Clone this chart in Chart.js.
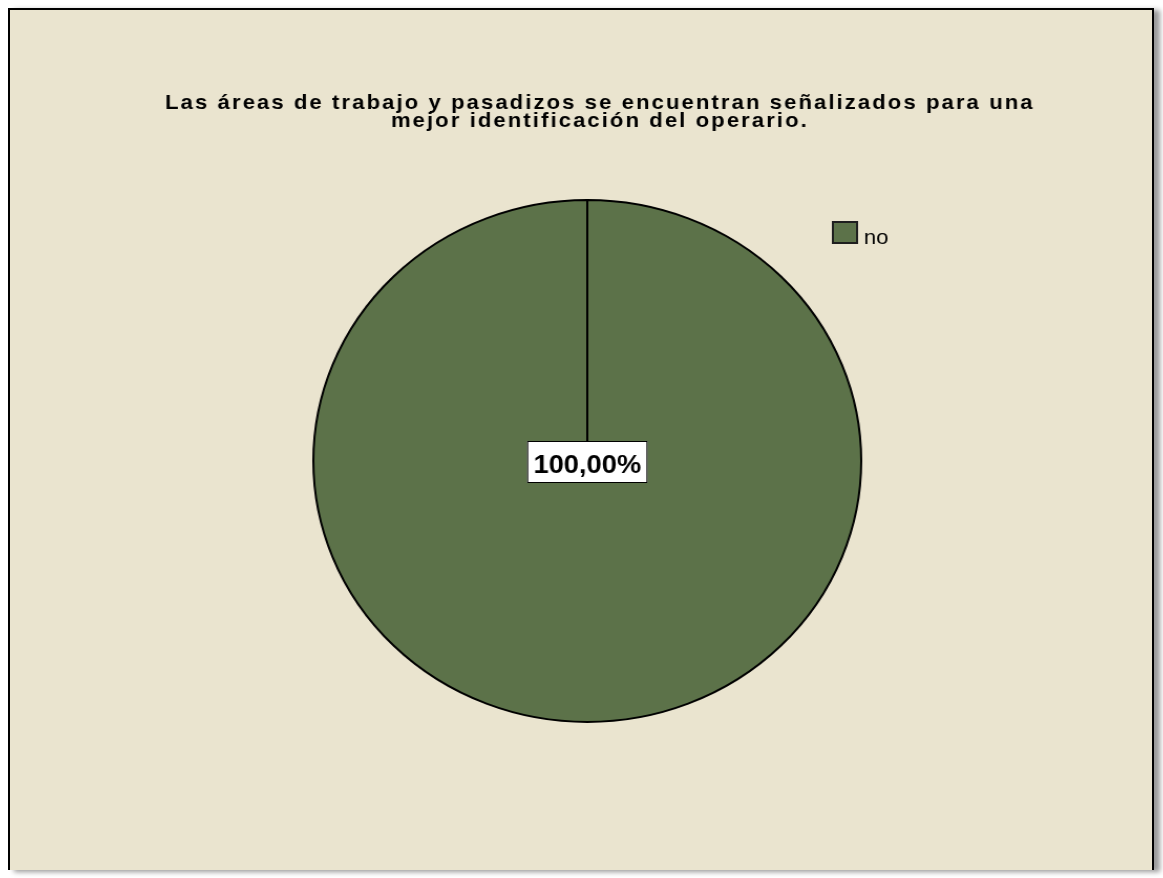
<!DOCTYPE html>
<html>
<head>
<meta charset="utf-8">
<script src="https://cdn.jsdelivr.net/npm/chart.js@4.4.1/dist/chart.umd.min.js"></script>
<style>
  html, body { margin: 0; background: #fff; }
  #marco {
    position: absolute; left: 8px; top: 8px;
    width: 1142px; height: 860px;
    border: 2px solid #000; border-bottom: none;
    background: #eae4cf;
    box-shadow: 6px 2px 5px rgba(0, 0, 0, .4);
    overflow: hidden;
  }
  #grafico { position: absolute; left: 0; top: 0; transform: scaleX(1.0496); transform-origin: 0 0; }
</style>
</head>
<body>
<div id="marco"><canvas id="grafico" width="1088" height="860"></canvas></div>
<script>
// Datos de la pregunta
const categorias = ['no'];
const frecuencias = [100];
const colores = ['#5c7249'];
const titulo = [
  'Las áreas de trabajo y pasadizos se encuentran señalizados para una',
  'mejor identificación del operario.'
];

const fuente = '"Liberation Sans", Arial, sans-serif';

// Título, leyenda y etiquetas de porcentaje dibujados a mano
const rotulos = {
  id: 'rotulos',
  afterDraw(chart) {
    const ctx = chart.ctx;

    // título en dos líneas
    ctx.save();
    ctx.font = 'bold 21px ' + fuente;
    ctx.letterSpacing = '2px';
    ctx.fillStyle = '#000';
    ctx.textAlign = 'center';
    titulo.forEach((linea, i) => ctx.fillText(linea, 562, 98.5 + i * 18.5));
    ctx.restore();

    // leyenda
    ctx.save();
    chart.data.labels.forEach((etiqueta, i) => {
      const y = 211 + i * 30;
      ctx.fillStyle = chart.data.datasets[0].backgroundColor[i];
      ctx.fillRect(783, y, 25, 23);
      ctx.strokeStyle = '#1e1e1e';
      ctx.lineWidth = 2;
      ctx.strokeRect(784, y + 1, 23, 21);
      ctx.fillStyle = '#000';
      ctx.font = '21px ' + fuente;
      ctx.textAlign = 'left';
      ctx.fillText(etiqueta, 813.5, y + 23);
    });
    ctx.restore();

    // porcentajes
    const meta = chart.getDatasetMeta(0);
    const datos = chart.data.datasets[0].data;
    const total = datos.reduce((a, b) => a + b, 0);
    meta.data.forEach((arco, i) => {
      const pct = datos[i] / total * 100;
      const texto = pct.toFixed(2).replace('.', ',') + '%';
      const pos = pct >= 100 ? { x: arco.x, y: arco.y } : arco.tooltipPosition();
      ctx.save();
      ctx.font = 'bold 26px ' + fuente;
      const w = ctx.measureText(texto).width + 12;
      const h = 42;
      ctx.fillStyle = '#fff';
      ctx.fillRect(pos.x - w / 2, pos.y - h / 2 + 1, w, h);
      ctx.strokeStyle = '#000';
      ctx.lineWidth = 1;
      ctx.strokeRect(pos.x - w / 2 + 0.5, pos.y - h / 2 + 1.5, w - 1, h - 1);
      ctx.fillStyle = '#000';
      ctx.textAlign = 'center';
      ctx.fillText(texto, pos.x, pos.y + 12);
      ctx.restore();
    });
  }
};

new Chart(document.getElementById('grafico').getContext('2d'), {
  type: 'pie',
  data: {
    labels: categorias,
    datasets: [{
      data: frecuencias,
      backgroundColor: colores,
      borderColor: '#000',
      borderWidth: 2
    }]
  },
  options: {
    responsive: false,
    animation: false,
    events: [],
    layout: { padding: { left: 288, right: 276, top: 189, bottom: 147 } },
    plugins: {
      legend: { display: false },
      title: { display: false },
      tooltip: { enabled: false }
    }
  },
  plugins: [rotulos]
});
</script>
</body>
</html>
